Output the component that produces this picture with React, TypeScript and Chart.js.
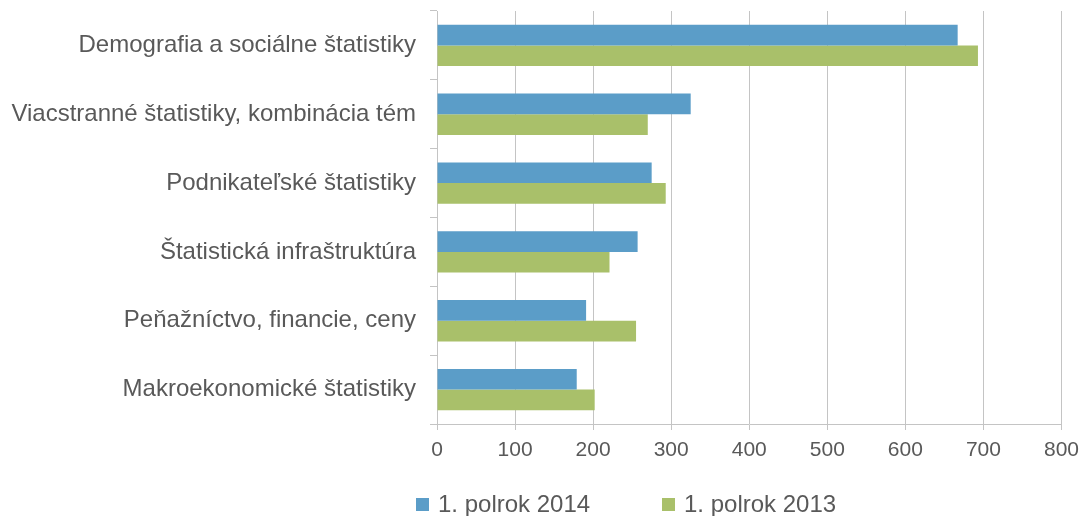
import React, { useEffect, useRef } from "react";
import { Chart, registerables } from "chart.js";

Chart.register(...registerables);

const categories = [
  "Demografia a sociálne štatistiky",
  "Viacstranné štatistiky, kombinácia tém",
  "Podnikateľské štatistiky",
  "Štatistická infraštruktúra",
  "Peňažníctvo, financie, ceny",
  "Makroekonomické štatistiky",
];
const seriesNames = ["1. polrok 2014", "1. polrok 2013"];
const values2014 = [667, 325, 275, 257, 191, 179];
const values2013 = [693, 270, 293, 221, 255, 202];
const colors = ["#5b9dc8", "#a9c06a"];

const FONT = "'Liberation Sans', Arial, sans-serif";
const TEXT = "#595959";
const GRID = "#c4c4c4";

export default function App() {
  const ref = useRef<HTMLCanvasElement | null>(null);

  useEffect(() => {
    if (!ref.current) return;
    const chart = new Chart(ref.current, {
      type: "bar",
      data: {
        labels: categories,
        datasets: [
          {
            label: seriesNames[0],
            data: values2014,
            backgroundColor: colors[0],
            borderWidth: 0,
            barPercentage: 1,
            categoryPercentage: 0.6,
          },
          {
            label: seriesNames[1],
            data: values2013,
            backgroundColor: colors[1],
            borderWidth: 0,
            barPercentage: 1,
            categoryPercentage: 0.6,
          },
        ],
      },
      options: {
        indexAxis: "y",
        responsive: false,
        animation: false,
        layout: { padding: { left: 0, top: 11, right: 25, bottom: 52 } },
        plugins: {
          legend: { display: false },
          tooltip: { enabled: false },
        },
        scales: {
          x: {
            min: 0,
            max: 800,
            ticks: {
              stepSize: 100,
              color: TEXT,
              font: { family: FONT, size: 21 },
              padding: 8,
              maxRotation: 0,
            },
            grid: { color: GRID, lineWidth: 1, tickLength: 6, drawTicks: true },
            border: { color: GRID, width: 1 },
            afterFit: (scale: any) => {
              scale.height = 40;
            },
          },
          y: {
            ticks: {
              color: TEXT,
              font: { family: FONT, size: 24 },
              padding: 14,
              autoSkip: false,
            },
            grid: {
              drawOnChartArea: false,
              drawTicks: true,
              tickLength: 7,
              color: GRID,
              offset: true,
            },
            border: { color: GRID, width: 1 },
            afterFit: (scale: any) => {
              scale.width = 437;
              scale.paddingTop = 0;
              scale.paddingBottom = 0;
            },
          },
        },
      },
    });
    return () => chart.destroy();
  }, []);

  const legendItem = (i: number, left: number) => (
    <div
      key={i}
      style={{
        position: "absolute",
        left,
        top: 490,
        display: "flex",
        alignItems: "center",
        fontFamily: FONT,
        fontSize: 24,
        color: TEXT,
        whiteSpace: "nowrap",
        lineHeight: "28px",
      }}
    >
      <span
        style={{
          display: "inline-block",
          width: 13,
          height: 13,
          background: colors[i],
          marginRight: 9,
        }}
      />
      <span>{seriesNames[i]}</span>
    </div>
  );

  return (
    <div
      style={{
        position: "absolute",
        left: 0,
        top: 0,
        width: 1087,
        height: 516,
        background: "#ffffff",
        overflow: "hidden",
      }}
    >
      <canvas ref={ref} width={1087} height={516} style={{ display: "block" }} />
      {legendItem(0, 416)}
      {legendItem(1, 662)}
    </div>
  );
}
